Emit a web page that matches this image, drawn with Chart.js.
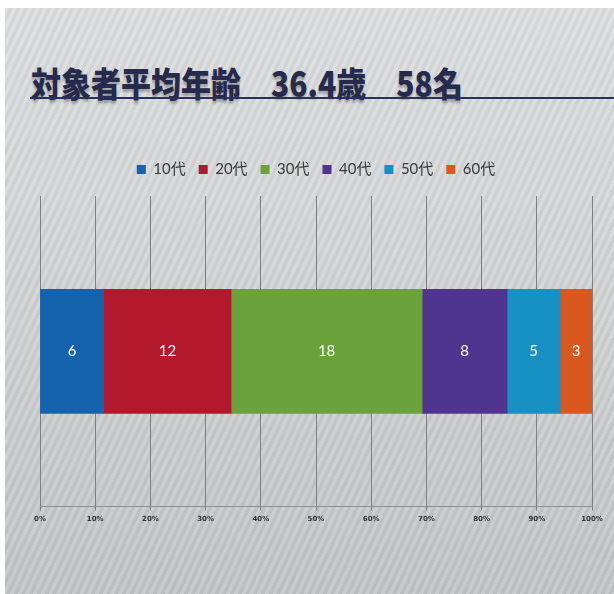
<!DOCTYPE html>
<html lang="ja">
<head>
<meta charset="utf-8">
<script src="https://cdn.jsdelivr.net/npm/chart.js@4.4.1/dist/chart.umd.min.js"></script>
<style>
  html, body { margin: 0; padding: 0; }
  body { width: 614px; height: 594px; background: #fff; overflow: hidden; position: relative; }
  #slide {
    position: absolute; left: 5px; top: 8px; right: 0; bottom: 0;
    background:
      repeating-linear-gradient(115deg, rgba(255,255,255,0.10) 0px, rgba(255,255,255,0.10) 3px, rgba(0,0,0,0.04) 4px, rgba(0,0,0,0.04) 7px),
      linear-gradient(180deg, #dcdedf 0%, #d3d5d6 40%, #c3c4c6 100%);
  }
  #title {
    position: absolute; left: 31px; top: 57px; margin: 0;
    font-family: "Noto Sans CJK JP", sans-serif; font-weight: 900; font-size: 30px;
    color: #262a4c; white-space: pre;
    transform: scaleY(1.15); transform-origin: left top;
    text-shadow: 0 2px 2px rgba(0,0,0,0.25);
  }
  #rule { position: absolute; left: 30px; right: 0; top: 97px; height: 2px; background: #2c2e62; }
  #wrap { position: absolute; left: 28px; top: 149px; width: 586px; height: 378px; }
</style>
</head>
<body>
<div id="slide"></div>
<div id="title">対象者平均年齢　36.4歳　58名</div>
<div id="rule"></div>
<div id="wrap"><canvas id="ageChart"></canvas></div>
<script>
// 年代別人数 (100%積み上げ横棒)
const ageGroups = ['10代', '20代', '30代', '40代', '50代', '60代'];
const counts = [6, 12, 18, 8, 5, 3];
const groupColors = ['#1563ad', '#b3182c', '#6ca23c', '#4f3590', '#1790c3', '#d9581f'];
const tickLabels = ['0%', '10%', '20%', '30%', '40%', '50%', '60%', '70%', '80%', '90%', '100%'];

const total = counts.reduce((a, b) => a + b, 0);

// draw the raw counts inside each segment
const segmentLabels = {
  id: 'segmentLabels',
  afterDatasetsDraw(chart) {
    const ctx = chart.ctx;
    ctx.save();
    ctx.fillStyle = '#ffffff';
    ctx.font = '15px Lato, "Open Sans", sans-serif';
    ctx.textAlign = 'center';
    ctx.textBaseline = 'middle';
    chart.data.datasets.forEach(function(ds, i) {
      const bar = chart.getDatasetMeta(i).data[0];
      if (!bar) return;
      const cx = (bar.x + bar.base) / 2;
      ctx.fillText(String(counts[i]), cx, bar.y);
    });
    ctx.restore();
  }
};

// a bit more room under the legend
const legendGap = {
  id: 'legendGap',
  beforeInit(chart) {
    const fit = chart.legend.fit;
    chart.legend.fit = function() {
      fit.bind(chart.legend)();
      this.height += 9;
    };
  }
};

new Chart(document.getElementById('ageChart').getContext('2d'), {
  type: 'bar',
  data: {
    labels: [''],
    datasets: ageGroups.map(function(name, i) {
      return {
        label: name,
        data: [counts[i] / total * 100],
        backgroundColor: groupColors[i],
        borderWidth: 0,
        barThickness: 124
      };
    })
  },
  options: {
    indexAxis: 'y',
    responsive: true,
    maintainAspectRatio: false,
    animation: false,
    layout: { padding: { left: 12, right: 22, top: 0, bottom: 0 } },
    plugins: {
      legend: {
        position: 'top',
        labels: {
          boxWidth: 9, boxHeight: 9, padding: 13,
          color: '#3a3a3a',
          font: { family: 'Lato, "Noto Sans CJK JP", sans-serif', size: 15 }
        }
      },
      tooltip: { enabled: false }
    },
    scales: {
      x: {
        stacked: true, min: 0, max: 100,
        ticks: {
          stepSize: 10, maxRotation: 0, autoSkip: false,
          color: '#333', padding: 4,
          font: { family: '"DejaVu Sans"', size: 7, weight: 'bold' },
          callback: function(v, idx) { return tickLabels[idx]; }
        },
        grid: { color: '#7d7f82', lineWidth: 1, tickLength: 4, drawOnChartArea: true },
        border: { color: '#8a8c8f', width: 1 }
      },
      y: {
        stacked: true,
        display: false
      }
    }
  },
  plugins: [segmentLabels, legendGap]
});
</script>
</body>
</html>
